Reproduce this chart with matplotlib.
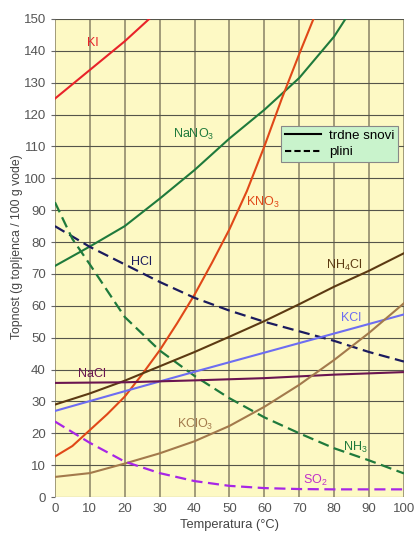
import matplotlib
matplotlib.use("Agg")
import matplotlib.pyplot as plt
from matplotlib.lines import Line2D

plt.rcParams['font.family'] = ['Liberation Sans', 'DejaVu Sans']
plt.rcParams['mathtext.fontset'] = 'custom'
plt.rcParams['mathtext.rm'] = 'Liberation Sans'
plt.rcParams['mathtext.it'] = 'Liberation Sans'

# ---- data (solubility, g solute / 100 g water) ----
ki_t = [0, 10, 20, 30]
ki_s = [125, 134, 143, 153]

nano3_t = [0, 10, 20, 30, 40, 50, 60, 70, 80, 85]
nano3_s = [72.5, 78.6, 85, 93.6, 102.6, 112.5, 121.5, 131.5, 144.5, 153]

kno3_t = [0, 5, 10, 15, 20, 25, 30, 35, 40, 45, 50, 55, 60, 65, 70, 75]
kno3_s = [12.7, 16, 21, 26, 31.5, 38.5, 46, 54.5, 63.5, 73.5, 84, 96, 110, 125, 139, 152.5]

hcl_t = [0, 10, 20, 30, 40, 50, 60, 70, 80, 90, 100]
hcl_s = [85, 78.5, 73, 67.5, 62.5, 58.5, 55, 52, 49, 45.5, 42.5]

nh3_t = [0, 5, 10, 20, 30, 40, 50, 60, 70, 80, 90, 100]
nh3_s = [92.5, 81, 73, 56.5, 46, 38, 31, 25, 20, 15.3, 11.5, 7.4]

nh4cl_t = [0, 10, 20, 30, 40, 50, 60, 70, 80, 90, 100]
nh4cl_s = [29, 32.5, 36.5, 41, 45.5, 50.3, 55.2, 60.5, 66, 71, 76.5]

kcl_t = [0, 20, 40, 60, 80, 100]
kcl_s = [27, 33.2, 39.3, 45.3, 51.3, 57.3]

nacl_t = [0, 20, 40, 60, 80, 100]
nacl_s = [35.8, 36, 36.6, 37.3, 38.4, 39.2]

kclo3_t = [0, 10, 20, 30, 40, 50, 60, 70, 80, 90, 100]
kclo3_s = [6.3, 7.5, 10.5, 13.7, 17.5, 22.3, 28.3, 35.2, 43, 51.5, 60.8]

so2_t = [0, 10, 20, 30, 40, 50, 60, 70, 80, 90, 100]
so2_s = [23.7, 17, 11.1, 7.5, 5, 3.5, 2.8, 2.5, 2.4, 2.4, 2.4]

x_ticks = list(range(0, 101, 10))
y_ticks = list(range(0, 151, 10))

fig = plt.figure(figsize=(4.16, 5.35), dpi=100)
fig.patch.set_facecolor('white')
ax = fig.add_axes([0.132, 0.071, 0.839, 0.8935])
ax.set_facecolor('#fdf9c4')

# grid
for xv in x_ticks:
    ax.axvline(xv, color='#9a9474', lw=1.3, zorder=1)
for yv in y_ticks:
    ax.axhline(yv, color='#55554a', lw=0.8, zorder=1)

series = [
    (ki_t, ki_s, '#e8232a', '-'),
    (nano3_t, nano3_s, '#1f7a3c', '-'),
    (kno3_t, kno3_s, '#e04818', '-'),
    (hcl_t, hcl_s, '#1b1b5e', '--'),
    (nh3_t, nh3_s, '#1f7a3c', '--'),
    (nh4cl_t, nh4cl_s, '#5c3a12', '-'),
    (kcl_t, kcl_s, '#6d6df2', '-'),
    (nacl_t, nacl_s, '#6a1550', '-'),
    (kclo3_t, kclo3_s, '#a37a4c', '-'),
    (so2_t, so2_s, '#a726e6', '--'),
]
for t, s, c, ls in series:
    if ls == '--':
        ax.plot(t, s, color=c, lw=1.6, ls=(0, (5, 2.5)), zorder=3, solid_capstyle='butt')
    else:
        ax.plot(t, s, color=c, lw=1.5, ls='-', zorder=3)

labels = [
    (11, 142.5, 'KI', '#e8232a'),
    (39.8, 113.9, 'NaNO$_3$', '#1f7a3c'),
    (59.6, 92.4, 'KNO$_3$', '#e04818'),
    (24.8, 73.6, 'HCl', '#1b1b5e'),
    (82.8, 72.6, 'NH$_4$Cl', '#5c3a12'),
    (84.8, 56.3, 'KCl', '#6d6df2'),
    (10.5, 38.6, 'NaCl', '#6a1550'),
    (40.1, 22.9, 'KClO$_3$', '#a37a4c'),
    (86, 15.4, 'NH$_3$', '#1f7a3c'),
    (74.5, 5.3, 'SO$_2$', '#c030c8'),
]
for x, y, txt, c in labels:
    ax.text(x, y, txt, color=c, fontsize=9, ha='center', va='center', zorder=4)

ax.set_xlim(0, 100)
ax.set_ylim(0, 150)
ax.set_xticks(x_ticks)
ax.set_yticks(y_ticks)
ax.tick_params(axis='both', colors='#666666', labelcolor='#555555', labelsize=9.5,
               length=3, width=0.8, direction='out')
ax.tick_params(axis='x', length=0, pad=4)
for sp in ax.spines.values():
    sp.set_visible(False)

ax.set_xlabel('Temperatura (°C)', fontsize=9.3, color='#444444', labelpad=3)
ax.set_ylabel('Topnost (g topljenca / 100 g vode)', fontsize=8.8, color='#444444')
ax.yaxis.set_label_coords(-0.092, 0.523)

handles = [Line2D([0], [0], color='black', lw=1.5, ls='-'),
           Line2D([0], [0], color='black', lw=1.5, ls=(0, (3, 1.5)))]
leg = ax.legend(handles, ['trdne snovi', 'plini'], loc='upper left',
                bbox_to_anchor=(0.648, 0.777), fontsize=9.6, frameon=True,
                fancybox=False, framealpha=1, borderpad=0.3, labelspacing=0.3,
                handlelength=2.7, handletextpad=0.6, borderaxespad=0)
leg.get_frame().set_facecolor('#c9f3cc')
leg.get_frame().set_edgecolor('#888888')
leg.get_frame().set_linewidth(0.8)
leg.set_zorder(5)

fig.savefig('out.png', dpi=100)
